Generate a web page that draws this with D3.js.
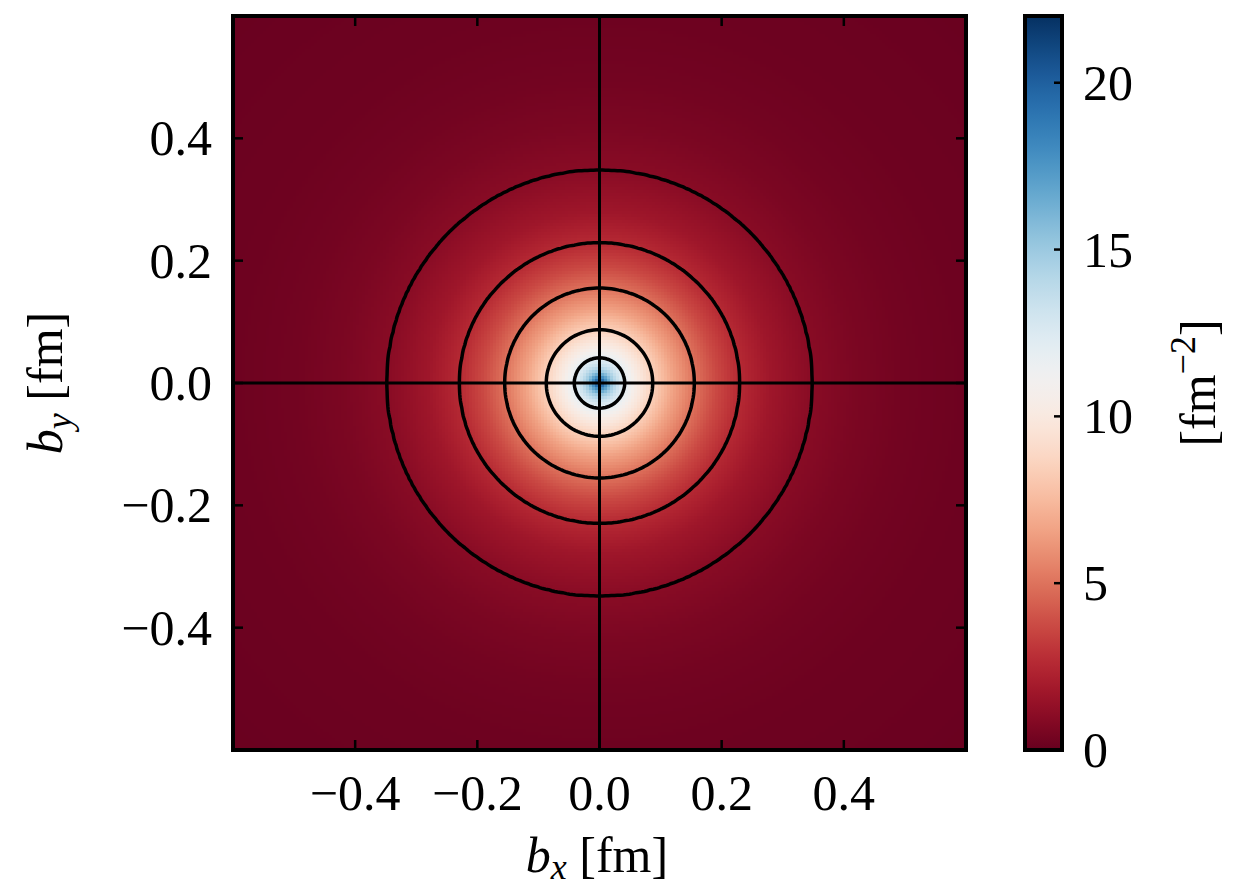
<!DOCTYPE html>
<html><head><meta charset="utf-8">
<script src="https://cdn.jsdelivr.net/npm/d3@7"></script>
<style>
body{margin:0;background:#fff;}
text{font-family:"Liberation Serif","DejaVu Serif",serif;fill:#000;}
</style></head>
<body>
<svg id="chart" width="1233" height="894"></svg>
<script>
// radial profile of the density (b in fm, value in fm^-2)
const radii   = [0, 0.01, 0.02, 0.03, 0.041, 0.06, 0.087, 0.12, 0.155, 0.19, 0.229, 0.28, 0.348, 0.42, 0.5, 0.6, 0.9];
const density = [22, 18, 15, 13.3, 12, 10.3, 8.5, 6.6, 5.0, 3.7, 2.6, 1.7, 1.0, 0.6, 0.35, 0.2, 0.05];
const contourLevels = [1.0, 2.6, 5.0, 8.5, 12];
const xTicks = [-0.4, -0.2, 0.0, 0.2, 0.4];
const yTicks = [-0.4, -0.2, 0.0, 0.2, 0.4];
const cbTicks = [0, 5, 10, 15, 20];
const cbMax = 22;
const extent = [-0.6, 0.6];
const N = 245;

const svg = d3.select("#chart");
const L = 233, R = 966, T = 16, B = 750;
const x = d3.scaleLinear().domain(extent).range([L, R]);
const y = d3.scaleLinear().domain(extent).range([B, T]);
const prof = d3.scaleLinear().domain(radii).range(density).clamp(true);
const color = v => d3.interpolateRdBu(Math.max(0, Math.min(1, v / cbMax)));

// grid
const step = (extent[1] - extent[0]) / N;
const values = new Array(N * N);
for (let j = 0; j < N; j++) {
  const by = extent[1] - (j + 0.5) * step;
  for (let i = 0; i < N; i++) {
    const bx = extent[0] + (i + 0.5) * step;
    values[j * N + i] = prof(Math.hypot(bx, by));
  }
}
const cv = document.createElement("canvas");
cv.width = N; cv.height = N;
const ctx = cv.getContext("2d");
const img = ctx.createImageData(N, N);
for (let k = 0; k < N * N; k++) {
  const c = d3.rgb(color(values[k]));
  img.data[4*k] = c.r; img.data[4*k+1] = c.g; img.data[4*k+2] = c.b; img.data[4*k+3] = 255;
}
ctx.putImageData(img, 0, 0);
svg.append("image")
  .attr("x", x(extent[0])).attr("y", y(extent[1]))
  .attr("width", x(extent[1]) - x(extent[0])).attr("height", y(extent[0]) - y(extent[1]))
  .attr("preserveAspectRatio", "none")
  .style("image-rendering", "pixelated")
  .attr("href", cv.toDataURL());

// contours
const contours = d3.contours().size([N, N]).thresholds(contourLevels)(values);
const pxPerCell = (R - L) / N;
const proj = d3.geoTransform({point: function(gx, gy) { this.stream.point(L + gx * pxPerCell, T + gy * ((B - T) / N)); }});
const path = d3.geoPath(proj);
svg.append("clipPath").attr("id", "clip").append("rect")
  .attr("x", L).attr("y", T).attr("width", R - L).attr("height", B - T);
svg.append("g").attr("clip-path", "url(#clip)")
  .selectAll("path").data(contours).join("path")
  .attr("d", path).attr("fill", "none").attr("stroke", "#000").attr("stroke-width", 3.5);

// crosshair
svg.append("line").attr("x1", x(0)).attr("x2", x(0)).attr("y1", T).attr("y2", B).attr("stroke", "#000").attr("stroke-width", 3);
svg.append("line").attr("x1", L).attr("x2", R).attr("y1", y(0)).attr("y2", y(0)).attr("stroke", "#000").attr("stroke-width", 3);

// ticks inward on all sides
const tl = 10;
const tickG = svg.append("g").attr("stroke", "#000").attr("stroke-width", 2.5);
xTicks.forEach(t => {
  tickG.append("line").attr("x1", x(t)).attr("x2", x(t)).attr("y1", B).attr("y2", B - tl);
  tickG.append("line").attr("x1", x(t)).attr("x2", x(t)).attr("y1", T).attr("y2", T + tl);
});
yTicks.forEach(t => {
  tickG.append("line").attr("x1", L).attr("x2", L + tl).attr("y1", y(t)).attr("y2", y(t));
  tickG.append("line").attr("x1", R).attr("x2", R - tl).attr("y1", y(t)).attr("y2", y(t));
});
svg.append("rect").attr("x", L).attr("y", T).attr("width", R - L).attr("height", B - T)
  .attr("fill", "none").attr("stroke", "#000").attr("stroke-width", 4);

const fmt = v => (v < 0 ? "\u2212" : "") + Math.abs(v).toFixed(1);
const FS = 50;
svg.append("g").selectAll("text").data(xTicks).join("text")
  .attr("x", d => x(d)).attr("y", 810).attr("text-anchor", "middle")
  .attr("font-size", FS).text(fmt);
svg.append("g").selectAll("text").data(yTicks).join("text")
  .attr("x", 212).attr("y", d => y(d) + 17).attr("text-anchor", "end")
  .attr("font-size", FS).text(fmt);

// axis labels
const xl = svg.append("text").attr("x", 597).attr("y", 872).attr("text-anchor", "middle").attr("font-size", FS);
xl.append("tspan").attr("font-style", "italic").text("b");
xl.append("tspan").attr("font-style", "italic").attr("font-size", 36).attr("dy", 7).text("x");
xl.append("tspan").attr("dy", -7).text(" [fm]");
const yl = svg.append("text").attr("transform", "translate(62,383) rotate(-90)").attr("text-anchor", "middle").attr("font-size", FS);
yl.append("tspan").attr("font-style", "italic").text("b");
yl.append("tspan").attr("font-style", "italic").attr("font-size", 36).attr("dy", 9).text("y");
yl.append("tspan").attr("dy", -9).text(" [fm]");

// colorbar
const cL = 1025, cR = 1062;
const cy = d3.scaleLinear().domain([0, cbMax]).range([B, T]);
const grad = svg.append("defs").append("linearGradient").attr("id", "cbg")
  .attr("x1", 0).attr("y1", 1).attr("x2", 0).attr("y2", 0);
d3.range(0, 1.0001, 0.02).forEach(t => grad.append("stop").attr("offset", t).attr("stop-color", d3.interpolateRdBu(t)));
svg.append("rect").attr("x", cL).attr("y", T).attr("width", cR - cL).attr("height", B - T).attr("fill", "url(#cbg)");
cbTicks.forEach(t => {
  svg.append("line").attr("x1", cR).attr("x2", cR - 8).attr("y1", cy(t)).attr("y2", cy(t)).attr("stroke", "#000").attr("stroke-width", 2.5);
});
svg.append("rect").attr("x", cL).attr("y", T).attr("width", cR - cL).attr("height", B - T)
  .attr("fill", "none").attr("stroke", "#000").attr("stroke-width", 4);
svg.append("g").selectAll("text").data(cbTicks).join("text")
  .attr("x", 1083).attr("y", d => cy(d) + 17).attr("font-size", FS).text(d => d);
const cl = svg.append("text").attr("transform", "translate(1215,383) rotate(-90)").attr("text-anchor", "middle").attr("font-size", FS);
cl.append("tspan").text("[fm");
cl.append("tspan").attr("font-size", 36).attr("dy", -20).text("\u22122");
cl.append("tspan").attr("dy", 20).text("]");
</script>
</body></html>
